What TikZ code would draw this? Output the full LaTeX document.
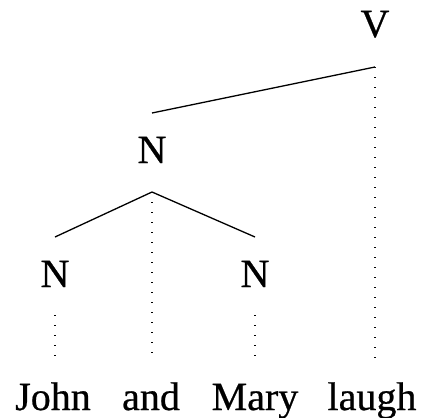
\documentclass[tikz,border=0pt]{standalone}
\usepackage{fontspec}
\setmainfont{Liberation Serif}[FakeBold=0.6]
\usetikzlibrary{positioning}
\tikzset{
  cat/.style={anchor=base,inner sep=0pt,font=\fontsize{20}{24}\selectfont},
  word/.style={anchor=base,inner sep=0pt,font=\fontsize{20}{24}\selectfont},
  branch/.style={line width=0.65pt,draw=black},
  proj/.style={line width=0.6pt,draw=black,dash pattern=on 0.6pt off 4.4pt},
}
\begin{document}
\begin{tikzpicture}[x=0.5pt,y=-0.5pt]
\useasboundingbox (0,0) rectangle (424,418);
% categories
\node[cat] (v)  at (375,37)  {V};
\node[cat] (n)  at (152,163) {N};
\node[cat] (n1) at (55,287)  {N};
\node[cat] (n2) at (255,287) {N};
% words
\node[word] (john)  at (53,410)  {John};
\node[word] (and)   at (151,410) {and};
\node[word] (mary)  at (255,410) {Mary};
\node[word] (laugh) at (372,410) {laugh};
% attachment points
\coordinate (vt)  at (375,67);
\coordinate (nl)  at (152,113);
\coordinate (nt)  at (152,192);
\coordinate (n1l) at (55,237);
\coordinate (n2l) at (255,237);
\coordinate (n1b) at (55,315);
\coordinate (n2b) at (255,315);
\coordinate (jt)  at (55,358);
\coordinate (at)  at (152,358);
\coordinate (mt)  at (255,358);
\coordinate (lt)  at (375,358);
% branches
\draw[branch] (vt) -- (nl);
\draw[branch] (n1l) -- (nt) -- (n2l);
% projection lines
\draw[proj] (vt) -- (lt);
\draw[proj] (nt) -- (at);
\draw[proj] (n1b) -- (jt);
\draw[proj] (n2b) -- (mt);
\end{tikzpicture}
\end{document}
